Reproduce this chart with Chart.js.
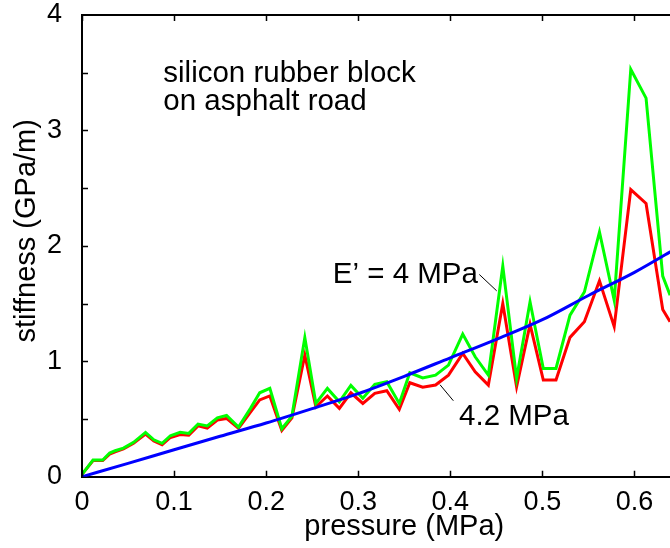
<!DOCTYPE html>
<html>
<head>
<meta charset="utf-8">
<script src="https://cdn.jsdelivr.net/npm/chart.js@4/dist/chart.umd.min.js"></script>
<style>
  html, body { margin: 0; padding: 0; background: #fff; }
  #wrap { width: 670px; height: 548px; position: relative; }
</style>
</head>
<body>
<div id="wrap"><canvas id="chart"></canvas></div>
<script>
// pressure (MPa) of each measurement
const pressure = [0, 0.012, 0.0225, 0.030, 0.036, 0.045, 0.056, 0.069, 0.078, 0.087,
  0.096, 0.1066, 0.116, 0.126, 0.136, 0.147, 0.157, 0.170, 0.183, 0.193,
  0.204, 0.217, 0.228, 0.242, 0.254, 0.2665, 0.2795, 0.292, 0.305, 0.318,
  0.331, 0.3446, 0.356, 0.370, 0.384, 0.398, 0.4135, 0.427, 0.4413, 0.457,
  0.472, 0.4866, 0.501, 0.5148, 0.530, 0.5456, 0.562, 0.578, 0.596, 0.6126,
  0.6307, 0.6387];
// stiffness (GPa/m), green curve
const stiffGreen = [0.02, 0.145, 0.145, 0.205, 0.225, 0.248, 0.298, 0.384, 0.32, 0.289,
  0.355, 0.384, 0.375, 0.456, 0.44, 0.51, 0.53, 0.43, 0.592, 0.727,
  0.765, 0.415, 0.525, 1.205, 0.635, 0.765, 0.649, 0.791, 0.679, 0.80,
  0.823, 0.635, 0.90, 0.856, 0.88, 0.967, 1.236, 1.039, 0.88, 1.824,
  0.852, 1.515, 0.938, 0.938, 1.40, 1.60, 2.12, 1.53, 3.53, 3.28,
  1.738, 1.573];
// stiffness (GPa/m), red curve
const stiffRed = [0.02, 0.14, 0.14, 0.195, 0.215, 0.24, 0.29, 0.37, 0.31, 0.277,
  0.34, 0.365, 0.36, 0.44, 0.42, 0.49, 0.505, 0.42, 0.56, 0.665,
  0.70, 0.40, 0.51, 1.054, 0.605, 0.699, 0.592, 0.727, 0.635, 0.722,
  0.745, 0.583, 0.814, 0.775, 0.794, 0.88, 1.068, 0.909, 0.794, 1.50,
  0.78, 1.32, 0.837, 0.837, 1.207, 1.342, 1.697, 1.30, 2.488, 2.367,
  1.449, 1.342];
// theory curve
const theoryP = [0, 0.05, 0.1, 0.15, 0.2, 0.25, 0.3, 0.35, 0.4, 0.45, 0.5, 0.55, 0.6, 0.65];
const theoryK = [0, 0.115, 0.234, 0.35, 0.465, 0.59, 0.72, 0.87, 1.03, 1.19, 1.36, 1.57, 1.77, 2.0];

const xTicks = [0, 0.1, 0.2, 0.3, 0.4, 0.5, 0.6];
const yLabels = [0, 1, 2, 3, 4];

const FONT = 'Liberation Sans, Arial, Helvetica, sans-serif';

const pts = (xs, ys) => xs.map((x, i) => ({ x: x, y: ys[i] }));

const noPad = s => {
  s.paddingTop = 0; s.paddingBottom = 0; s.paddingLeft = 0; s.paddingRight = 0;
};

const framePlugin = {
  id: 'frame',
  afterDraw(chart) {
    const { ctx, chartArea: a, scales: { x, y } } = chart;
    ctx.save();
    ctx.strokeStyle = '#000';
    ctx.lineWidth = 2;
    // top border
    ctx.beginPath();
    ctx.moveTo(a.left, a.top);
    ctx.lineTo(a.right, a.top);
    ctx.stroke();
    // inward ticks
    ctx.lineWidth = 1.5;
    ctx.beginPath();
    xTicks.forEach(v => {
      const px = Math.round(x.getPixelForValue(v)) + 0.5;
      ctx.moveTo(px, a.bottom); ctx.lineTo(px, a.bottom - 6);
      ctx.moveTo(px, a.top); ctx.lineTo(px, a.top + 6);
    });
    for (let v = 0.5; v < 4; v += 0.5) {
      const py = Math.round(y.getPixelForValue(v)) + 0.5;
      ctx.moveTo(a.left, py); ctx.lineTo(a.left + 6, py);
    }
    ctx.stroke();

    // axis titles
    ctx.fillStyle = '#000';
    ctx.font = '29px ' + FONT;
    ctx.textAlign = 'center';
    ctx.textBaseline = 'alphabetic';
    ctx.fillText('pressure (MPa)', x.getPixelForValue(0.35), 535);
    ctx.save();
    ctx.translate(35, y.getPixelForValue(2.13));
    ctx.rotate(-Math.PI / 2);
    ctx.fillText('stiffness (GPa/m)', 0, 0);
    ctx.restore();

    // annotations
    ctx.font = '29.5px ' + FONT;
    ctx.textAlign = 'left';
    ctx.fillText('silicon rubber block', x.getPixelForValue(0.0883), y.getPixelForValue(3.42));
    ctx.fillText('on asphalt road', x.getPixelForValue(0.0883), y.getPixelForValue(3.18));
    ctx.textAlign = 'right';
    ctx.fillText('E\u2019 = 4 MPa', x.getPixelForValue(0.430), y.getPixelForValue(1.677));
    ctx.textAlign = 'left';
    ctx.fillText('4.2 MPa', x.getPixelForValue(0.4095), y.getPixelForValue(0.45));

    ctx.lineWidth = 1;
    ctx.beginPath();
    ctx.moveTo(x.getPixelForValue(0.4315), y.getPixelForValue(1.752));
    ctx.lineTo(x.getPixelForValue(0.4504), y.getPixelForValue(1.61));
    ctx.moveTo(x.getPixelForValue(0.4033), y.getPixelForValue(0.658));
    ctx.lineTo(x.getPixelForValue(0.3888), y.getPixelForValue(0.797));
    ctx.stroke();
    ctx.restore();
  }
};

new Chart(document.getElementById('chart'), {
  type: 'line',
  data: {
    datasets: [
      {
        label: 'E\u2019 = 4 MPa theory',
        data: pts(theoryP, theoryK),
        borderColor: 'rgb(0, 0, 255)',
        borderWidth: 3,
        pointRadius: 0,
        cubicInterpolationMode: 'monotone'
      },
      {
        label: 'green',
        data: pts(pressure, stiffGreen),
        borderColor: 'rgb(0, 255, 0)',
        borderWidth: 3,
        pointRadius: 0,
        tension: 0
      },
      {
        label: 'red',
        data: pts(pressure, stiffRed),
        borderColor: 'rgb(255, 0, 0)',
        borderWidth: 3,
        pointRadius: 0,
        tension: 0
      }
    ]
  },
  options: {
    responsive: true,
    maintainAspectRatio: false,
    animation: false,
    layout: { padding: { top: 15, right: 0, left: 0, bottom: 0 } },
    plugins: { legend: { display: false }, tooltip: { enabled: false } },
    scales: {
      x: {
        type: 'linear',
        min: 0,
        max: 0.6386,
        afterBuildTicks: s => { s.ticks = xTicks.map(v => ({ value: v })); },
        afterFit: s => { s.height = 71.3; noPad(s); },
        ticks: {
          color: '#000',
          font: { family: FONT, size: 27 },
          padding: 10,
          maxRotation: 0,
          callback: v => String(v)
        },
        grid: { display: false, drawTicks: false },
        border: { display: true, color: '#000', width: 2 }
      },
      y: {
        min: 0,
        max: 4,
        afterBuildTicks: s => { s.ticks = yLabels.map(v => ({ value: v })); },
        afterFit: s => { s.width = 82; noPad(s); },
        ticks: {
          color: '#000',
          font: { family: FONT, size: 27 },
          padding: 20
        },
        grid: { display: false, drawTicks: false },
        border: { display: true, color: '#000', width: 2 }
      }
    }
  },
  plugins: [framePlugin]
});
</script>
</body>
</html>
